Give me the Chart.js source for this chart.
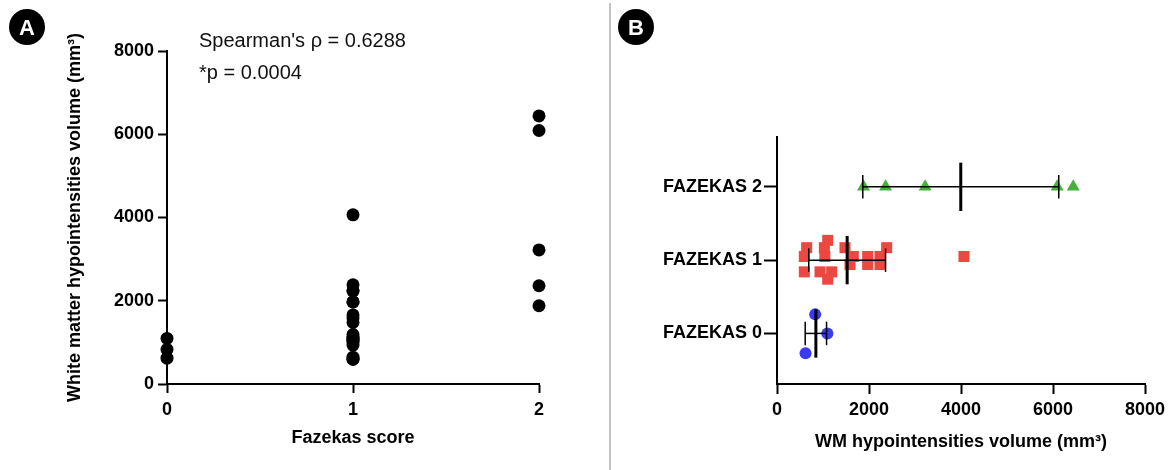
<!DOCTYPE html>
<html>
<head>
<meta charset="utf-8">
<script src="https://cdn.jsdelivr.net/npm/chart.js@4.4.1/dist/chart.umd.min.js"></script>
<style>
  body { margin: 0; width: 1171px; height: 470px; position: relative; background: #fff; overflow: hidden;
         font-family: "Liberation Sans", Arial, sans-serif; }
  #cA { position: absolute; left: 0; top: 0; }
  #cB { position: absolute; left: 611px; top: 0; }
  .divider { position: absolute; left: 609px; top: 3px; width: 2px; height: 467px; background: #c2c2c2; }
  .badge { position: absolute; top: 9px; width: 36px; height: 36px; border-radius: 50%; background: #000;
           color: #fff; font-weight: bold; font-size: 22px; line-height: 37px; text-align: center; }
  .stat { position: absolute; left: 199px; font-size: 20px; line-height: 24px; color: #111; white-space: nowrap; }
</style>
</head>
<body>
<canvas id="cA" width="610" height="470"></canvas>
<div class="divider"></div>
<canvas id="cB" width="560" height="470"></canvas>
<div class="badge" style="left:9px">A</div>
<div class="badge" style="left:618px">B</div>
<div class="stat" style="top:28px">Spearman's ρ = 0.6288</div>
<div class="stat" style="top:60px">*p = 0.0004</div>

<script>
// Data (WM hypointensities volume, mm³)
const faz0Vol = [1095, 830, 620];
const faz0Jit = [0, 0.26, -0.27];
const faz1Vol = [1102, 645, 1029, 1478, 2384, 594, 1040, 1659, 1971, 2239, 4065, 1587, 1971, 2239, 594, 935, 1188, 1102];
const faz1Jit = [0.27, 0.17, 0.17, 0.17, 0.17, 0.05, 0.05, 0.05, 0.05, 0.05, 0.05, -0.06, -0.06, -0.06, -0.16, -0.16, -0.16, -0.26];
const faz2Vol = [1880, 2360, 3220, 6090, 6440];
const faz2Jit = [0, 0, 0, 0, 0];
// mean and SD bars as drawn in panel B
const groupMean = [845, 1525, 3995];
const groupSd = [232, 835, 2130];
const groupNames = ['FAZEKAS 0', 'FAZEKAS 1', 'FAZEKAS 2'];

const FONT = "'Liberation Sans', Arial, sans-serif";
const bold18 = { family: FONT, size: 18, weight: 'bold' };
Chart.defaults.font.family = FONT;
Chart.defaults.color = '#000';

function axis(opts) {
  return {
    type: 'linear',
    min: opts.min, max: opts.max,
    border: { color: '#000', width: 2 },
    grid: { drawOnChartArea: false, drawTicks: true, tickLength: opts.tickLen, tickColor: '#000', tickWidth: 2 },
    ticks: Object.assign({ color: '#000', font: bold18, padding: opts.pad, maxRotation: 0, autoSkip: false,
                           callback: v => String(v) }, opts.ticks || {}),
    title: opts.title ? { display: true, text: opts.title, color: '#000', font: bold18, padding: opts.titlePad } : { display: false },
    afterBuildTicks: opts.afterBuildTicks,
    afterFit: opts.fit
  };
}

const common = {
  responsive: false,
  animation: false,
  events: [],
  plugins: { legend: { display: false }, tooltip: { enabled: false } }
};

// 🅰 Panel A: scatter of volume vs score
const ptsA = [];
faz0Vol.forEach(v => ptsA.push({ x: 0, y: v }));
faz1Vol.forEach(v => ptsA.push({ x: 1, y: v }));
faz2Vol.forEach(v => ptsA.push({ x: 2, y: v }));

new Chart(document.getElementById('cA'), {
  type: 'scatter',
  data: { datasets: [{ data: ptsA, pointRadius: 6.5, backgroundColor: '#000', borderWidth: 0, clip: false }] },
  options: Object.assign({}, common, {
    layout: { padding: { top: 51, right: 71, bottom: 0, left: 0 } },
    scales: {
      x: axis({ min: 0, max: 2, tickLen: 9, pad: 6, ticks: { stepSize: 1 },
                title: 'Fazekas score', titlePad: { bottom: 21 }, fit: s => { s.height = 86; } }),
      y: axis({ min: 0, max: 8000, tickLen: 9, pad: 4, ticks: { stepSize: 2000 },
                title: 'White matter hypointensities volume (mm³)', titlePad: { top: 64 }, fit: s => { s.width = 167; } })
    }
  })
});

// 🅱 Panel B: dot plot with mean ± SD
function seg(a, b, w) {
  return { data: [a, b], showLine: true, borderColor: '#000', borderWidth: w, pointRadius: 0, clip: false, order: 0 };
}
const barSets = [];
groupMean.forEach((m, g) => {
  const s = groupSd[g];
  barSets.push(seg({ x: m - s, y: g }, { x: m + s, y: g }, 1.5));
  barSets.push(seg({ x: m - s, y: g - 0.16 }, { x: m - s, y: g + 0.16 }, 1.5));
  barSets.push(seg({ x: m + s, y: g - 0.16 }, { x: m + s, y: g + 0.16 }, 1.5));
  barSets.push(seg({ x: m, y: g - 0.33 }, { x: m, y: g + 0.33 }, 3));
});

function dots(vol, jit, g, color, style, r) {
  return { data: vol.map((v, i) => ({ x: v, y: g + jit[i] })), pointStyle: style, pointRadius: r,
           backgroundColor: color, borderWidth: 0, clip: false, order: 1 };
}

new Chart(document.getElementById('cB'), {
  type: 'scatter',
  data: { datasets: barSets.concat([
    dots(faz0Vol, faz0Jit, 0, '#3a3af4', 'circle', 6),
    dots(faz1Vol, faz1Jit, 1, '#ec4841', 'rect', 7.8),
    dots(faz2Vol, faz2Jit, 2, '#45b03b', 'triangle', 7.5)
  ]) },
  options: Object.assign({}, common, {
    layout: { padding: { top: 137, right: 26, bottom: 0, left: 0 } },
    scales: {
      x: axis({ min: 0, max: 8000, tickLen: 10, pad: 5, ticks: { stepSize: 2000 },
                title: 'WM hypointensities volume (mm³)', titlePad: { bottom: 17 }, fit: s => { s.height = 86; } }),
      y: axis({ min: -0.69, max: 2.68, tickLen: 13, pad: 2,
                ticks: { callback: v => groupNames[v] },
                afterBuildTicks: s => { s.ticks = [0, 1, 2].map(v => ({ value: v })); },
                fit: s => { s.width = 166; } })
    }
  })
});
</script>
</body>
</html>
